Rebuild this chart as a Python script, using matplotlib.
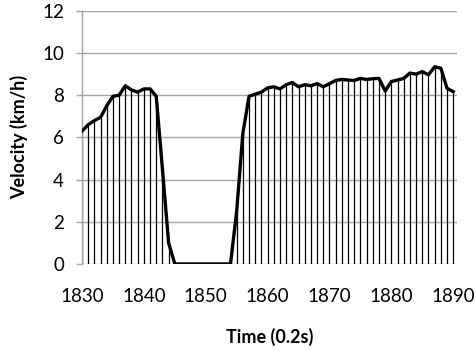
import matplotlib
matplotlib.use('Agg')
import matplotlib.pyplot as plt
import numpy as np

# time steps (0.2 s each) and measured velocity
time = list(range(1830, 1891))
velocity = [6.3, 6.6, 6.8, 6.95, 7.5, 7.95, 8.0, 8.45, 8.25, 8.15,
            8.3, 8.3, 7.95, 4.5, 1.0, 0.0, 0.0, 0.0, 0.0, 0.0,
            0.0, 0.0, 0.0, 0.0, 0.0, 2.5, 6.2, 7.95, 8.05, 8.15,
            8.35, 8.4, 8.3, 8.5, 8.6, 8.4, 8.5, 8.45, 8.55, 8.4,
            8.55, 8.7, 8.75, 8.72, 8.7, 8.8, 8.75, 8.78, 8.8, 8.2,
            8.65, 8.72, 8.8, 9.05, 9.0, 9.12, 8.97, 9.35, 9.28, 8.33,
            8.17]

x_ticks = [1830, 1840, 1850, 1860, 1870, 1880, 1890]
y_ticks = [0, 2, 4, 6, 8, 10, 12]

plt.rcParams['font.family'] = ['Lato', 'DejaVu Sans']

fig = plt.figure(figsize=(4.74, 3.51), dpi=100)
ax = fig.add_axes([0.173, 0.248, 0.791, 0.721])

t = np.array(time)
v = np.array(velocity)
ax.vlines(t[v > 0], 0, v[v > 0], color='black', lw=0.9, zorder=2)
ax.plot(t, v, color='black', lw=2.4, zorder=3, solid_joinstyle='round')

ax.set_xlim(1830, 1890.6)
ax.set_ylim(0, 12)
ax.set_xticks(x_ticks)
ax.set_yticks(y_ticks)
ax.yaxis.grid(True, color='#a6a6a6', lw=1.0, zorder=1)
ax.set_axisbelow(True)

for side in ['top', 'right', 'bottom']:
    ax.spines[side].set_visible(False)
ax.spines['left'].set_color('#a6a6a6')
ax.spines['left'].set_linewidth(1.0)

ax.tick_params(axis='y', length=4, color='#a6a6a6', width=1.0, pad=9, labelsize=13.5)
ax.tick_params(axis='x', length=0, pad=17, labelsize=13.5)

ax.set_xlabel('Time (0.2s)', fontsize=13, fontweight='bold', labelpad=17)
ax.set_ylabel('Velocity (km/h)', fontsize=13, fontweight='bold', labelpad=10)

fig.savefig('out.png', dpi=100)
